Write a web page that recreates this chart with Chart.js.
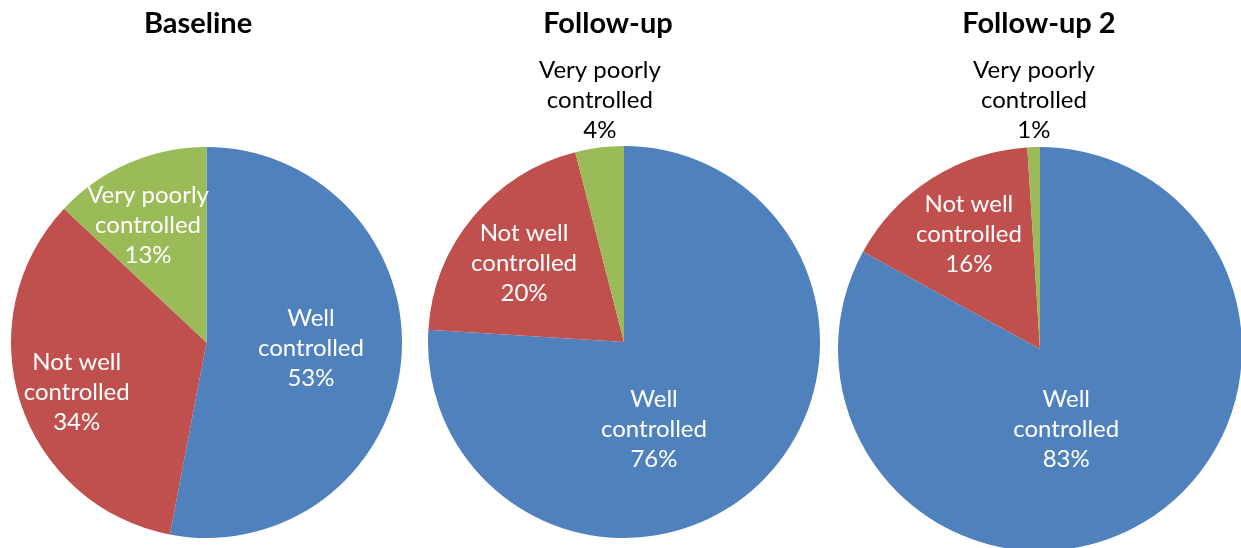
<!DOCTYPE html>
<html>
<head>
<meta charset="utf-8">
<title>Asthma control</title>
<script src="https://cdn.jsdelivr.net/npm/chart.js@4"></script>
<style>
  html, body { margin: 0; padding: 0; background: #fff; }
  #wrap { position: relative; width: 1241px; height: 548px; overflow: hidden; }
  #wrap canvas { position: absolute; left: 0; top: 0; }
</style>
</head>
<body>
<div id="wrap">
  <canvas id="pieBaseline" width="1260" height="560"></canvas>
  <canvas id="pieFollowUp" width="1260" height="560"></canvas>
  <canvas id="pieFollowUp2" width="1260" height="560"></canvas>
</div>
<script>
// Control categories, clockwise from 12 o'clock
const categories = ['Well controlled', 'Not well controlled', 'Very poorly controlled'];
const labelLines = [['Well', 'controlled'], ['Not well', 'controlled'], ['Very poorly', 'controlled']];

// Percent of patients in each category
const baseline = [53, 34, 13];
const followUp = [76, 20, 4];
const followUp2 = [83, 16, 1];

const sliceColors = ['#4F81BD', '#C0504D', '#9BBB59'];
const FONT = 'Lato, "Open Sans", sans-serif';

// Where each pie sits, plus label placement: [angle shift in degrees, fraction of radius]
const panels = [
    {
        id: 'pieBaseline', title: 'Baseline', values: baseline, titleX: 198,
        cx: 206.5, cy: 342.5, r: 195.5,
        labelAt: [[-2.4, 0.535], [-2.8, 0.71], [-3.1, 0.67]]
    },
    {
        id: 'pieFollowUp', title: 'Follow-up', values: followUp, titleX: 608,
        cx: 624, cy: 342, r: 196,
        labelAt: [[24.2, 0.47], [-1.3, 0.65], [1.5, 1.24]]
    },
    {
        id: 'pieFollowUp2', title: 'Follow-up 2', values: followUp2, titleX: 1039,
        cx: 1040, cy: 349, r: 202,
        labelAt: [[12.6, 0.42], [0.7, 0.67], [0.4, 1.23]]
    }
];

// Title plus the multi-line data labels
const pieText = {
    id: 'pieText',
    afterDatasetsDraw(chart, args, opts) {
        const ctx = chart.ctx;
        ctx.save();
        ctx.textAlign = 'center';

        ctx.fillStyle = '#000';
        ctx.font = 'bold 29px ' + FONT;
        ctx.textBaseline = 'alphabetic';
        ctx.fillText(opts.title, opts.titleX, 33);

        ctx.font = '24px ' + FONT;
        ctx.textBaseline = 'middle';
        const meta = chart.getDatasetMeta(0);
        const values = chart.data.datasets[0].data;
        meta.data.forEach((arc, i) => {
            const p = arc.getProps(['x', 'y', 'startAngle', 'endAngle', 'outerRadius'], true);
            const [shift, frac] = opts.labelAt[i];
            const mid = (p.startAngle + p.endAngle) / 2 + shift * Math.PI / 180;
            const lx = p.x + Math.cos(mid) * p.outerRadius * frac;
            const ly = p.y + Math.sin(mid) * p.outerRadius * frac;
            const lines = labelLines[i].concat([values[i] + '%']);
            ctx.fillStyle = frac > 1 ? '#000' : '#fff';
            lines.forEach((line, k) => {
                ctx.fillText(line, lx, ly + (k - 1) * 30);
            });
        });
        ctx.restore();
    }
};

panels.forEach(panel => {
    const canvas = document.getElementById(panel.id);
    const W = canvas.width, H = canvas.height;
    new Chart(canvas.getContext('2d'), {
        type: 'pie',
        data: {
            labels: categories,
            datasets: [{
                data: panel.values,
                backgroundColor: sliceColors,
                borderWidth: 0
            }]
        },
        options: {
            responsive: false,
            animation: false,
            events: [],
            layout: {
                padding: {
                    left: panel.cx - panel.r,
                    right: W - panel.cx - panel.r,
                    top: panel.cy - panel.r,
                    bottom: H - panel.cy - panel.r
                }
            },
            plugins: {
                legend: { display: false },
                tooltip: { enabled: false },
                title: { display: false },
                pieText: { title: panel.title, titleX: panel.titleX, labelAt: panel.labelAt }
            }
        },
        plugins: [pieText]
    });
});
</script>
</body>
</html>
